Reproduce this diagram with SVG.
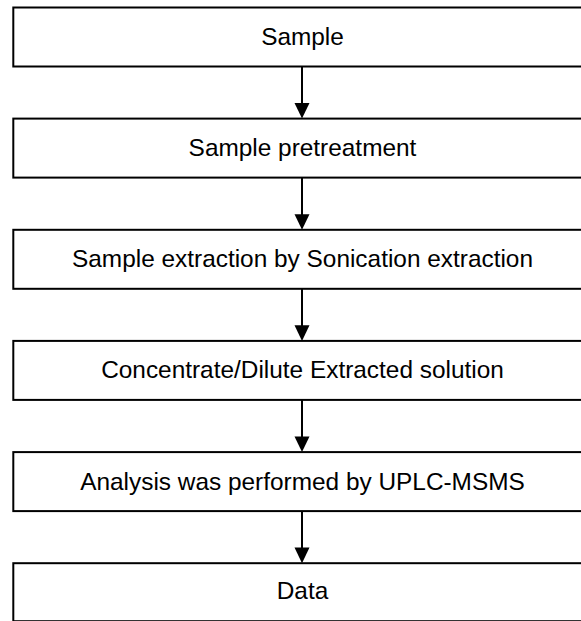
<svg xmlns="http://www.w3.org/2000/svg" width="581" height="621" viewBox="0 0 581 621">
  <style>
    .box { fill: #ffffff; stroke: #000000; stroke-width: 2; }
    .lbl { font-family: "Liberation Sans", Arial, sans-serif; font-size: 24.4px; fill: #000000; text-anchor: middle; }
    .conn { stroke: #000000; stroke-width: 2; fill: none; }
    .head { fill: #000000; stroke: none; }
  </style>
  <rect width="581" height="621" fill="#ffffff"/>
  <g id="n1">
    <rect class="box" x="13.3" y="7.5" width="578" height="59"/>
    <text class="lbl" x="302.5" y="44.5">Sample</text>
  </g>
  <g id="n2">
    <rect class="box" x="13.3" y="118.6" width="578" height="59"/>
    <text class="lbl" x="302.5" y="155.6">Sample pretreatment</text>
  </g>
  <g id="n3">
    <rect class="box" x="13.3" y="229.8" width="578" height="59"/>
    <text class="lbl" x="302.5" y="267">Sample extraction by Sonication extraction</text>
  </g>
  <g id="n4">
    <rect class="box" x="13.3" y="340.9" width="578" height="59"/>
    <text class="lbl" x="302.5" y="378.3">Concentrate/Dilute Extracted solution</text>
  </g>
  <g id="n5">
    <rect class="box" x="13.3" y="452.1" width="578" height="59"/>
    <text class="lbl" x="302.5" y="490">Analysis was performed by UPLC-MSMS</text>
  </g>
  <g id="n6">
    <rect class="box" x="13.3" y="563.2" width="578" height="58"/>
    <text class="lbl" x="302.5" y="599">Data</text>
  </g>
  <g id="connectors">
    <line class="conn" x1="302" y1="66.5" x2="302" y2="104"/>
    <polygon class="head" points="294.5,103 309.5,103 302,118.6"/>
    <line class="conn" x1="302" y1="177.6" x2="302" y2="215"/>
    <polygon class="head" points="294.5,214.2 309.5,214.2 302,229.8"/>
    <line class="conn" x1="302" y1="288.8" x2="302" y2="326"/>
    <polygon class="head" points="294.5,325.3 309.5,325.3 302,340.9"/>
    <line class="conn" x1="302" y1="399.9" x2="302" y2="437"/>
    <polygon class="head" points="294.5,436.5 309.5,436.5 302,452.1"/>
    <line class="conn" x1="302" y1="511.1" x2="302" y2="548"/>
    <polygon class="head" points="294.5,547.6 309.5,547.6 302,563.2"/>
  </g>
</svg>
